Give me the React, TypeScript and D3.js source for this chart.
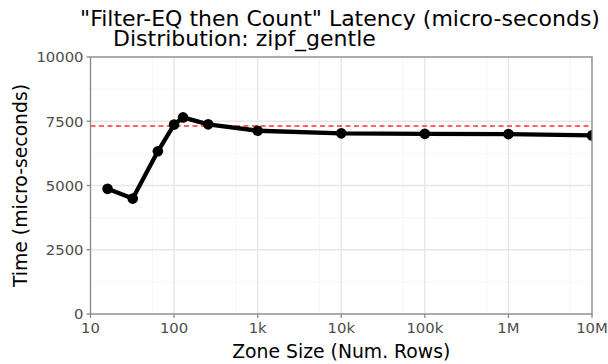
import React from "react";
import * as d3 from "d3";

const zoneSizes = [16, 32, 64, 100, 128, 256, 1000, 10000, 100000, 1000000, 10000000];
const latency = [4870, 4490, 6330, 7370, 7650, 7380, 7130, 7030, 7010, 7000, 6950];
const refLine = 7314;
const xBreaks = [10, 100, 1000, 10000, 100000, 1000000, 10000000];
const xLabels = ["10", "100", "1k", "10k", "100k", "1M", "10M"];
const xMinor = [55, 550, 5500, 55000, 550000, 5500000];
const yBreaks = [0, 2500, 5000, 7500, 10000];
const yMinor = [1250, 3750, 6250, 8750];

const W = 608, H = 364;
const L = 90.5, R = 592, T = 57, B = 314;
const font = "DejaVu Sans, sans-serif";

export default function App() {
  const x = d3.scaleLog().domain([10, 10000000]).range([L, R]);
  const y = d3.scaleLinear().domain([0, 10000]).range([B, T]);
  const line = d3.line<number>().x((_, i) => x(zoneSizes[i])).y((d) => y(d));
  return (
    <svg width={W} height={H} style={{ position: "absolute", left: 0, top: 0 }} fontFamily={font}>
      <rect width={W} height={H} fill="#fff" />
      <defs>
        <clipPath id="panel">
          <rect x={L} y={T} width={R - L} height={B - T} />
        </clipPath>
      </defs>
      {xMinor.map((v) => (
        <line key={"xm" + v} x1={x(v)} x2={x(v)} y1={T} y2={B} stroke="#f4f4f4" strokeWidth={0.8} />
      ))}
      {yMinor.map((v) => (
        <line key={"ym" + v} x1={L} x2={R} y1={y(v)} y2={y(v)} stroke="#f4f4f4" strokeWidth={0.8} />
      ))}
      {xBreaks.map((v) => (
        <line key={"xg" + v} x1={x(v)} x2={x(v)} y1={T} y2={B} stroke="#e6e6e6" strokeWidth={1.4} />
      ))}
      {yBreaks.map((v) => (
        <line key={"yg" + v} x1={L} x2={R} y1={y(v)} y2={y(v)} stroke="#e6e6e6" strokeWidth={1.4} />
      ))}
      <g clipPath="url(#panel)">
        <line x1={L} x2={R} y1={y(refLine)} y2={y(refLine)} stroke="#ff3030" strokeWidth={1.5} strokeDasharray="5,3.5" />
        <path d={line(latency) || ""} fill="none" stroke="#000" strokeWidth={4.3} strokeLinejoin="round" />
        {latency.map((d, i) => (
          <circle key={i} cx={x(zoneSizes[i])} cy={y(d)} r={5.3} fill="#000" />
        ))}
      </g>
      <rect x={L} y={T} width={R - L} height={B - T} fill="none" stroke="#8a8a8a" strokeWidth={1.3} />
      {yBreaks.map((v) => (
        <g key={"yt" + v}>
          <line x1={L - 4} x2={L} y1={y(v)} y2={y(v)} stroke="#8a8a8a" strokeWidth={1.3} />
          <text x={L - 7} y={y(v)} dy="0.36em" textAnchor="end" fontSize={14.8} fill="#4d4d4d">{v}</text>
        </g>
      ))}
      {xBreaks.map((v, i) => (
        <g key={"xt" + v}>
          <line x1={x(v)} x2={x(v)} y1={B} y2={B + 4} stroke="#8a8a8a" strokeWidth={1.3} />
          <text x={x(v)} y={B + 19} textAnchor="middle" fontSize={14.8} fill="#4d4d4d">{xLabels[i]}</text>
        </g>
      ))}
      <text x={(L + R) / 2} y={358} textAnchor="middle" fontSize={18.8} fill="#000">Zone Size (Num. Rows)</text>
      <text transform={`translate(27,${(T + B) / 2}) rotate(-90)`} textAnchor="middle" fontSize={18.8} fill="#000">Time (micro-seconds)</text>
      <text x={340} y={26} textAnchor="middle" fontSize={22} fill="#000">"Filter-EQ then Count" Latency (micro-seconds)</text>
      <text x={113} y={46} textAnchor="start" fontSize={22} fill="#000">Distribution: zipf_gentle</text>
    </svg>
  );
}
